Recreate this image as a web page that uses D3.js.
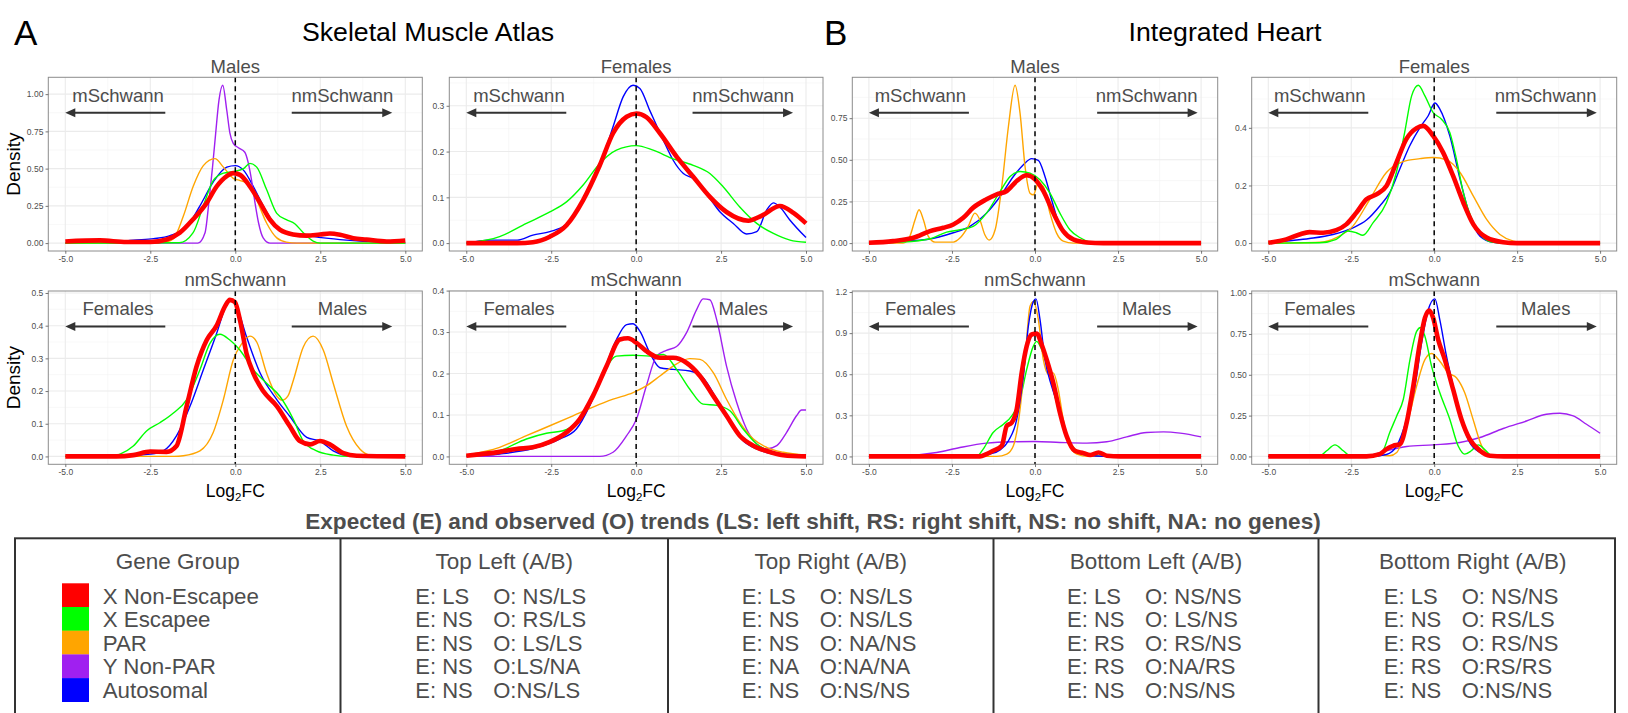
<!DOCTYPE html>
<html>
<head>
<meta charset="utf-8">
<script src="https://cdn.jsdelivr.net/npm/d3@7"></script>
<style>
  body { margin: 0; background: #fff; }
  svg { display: block; }
  text { font-family: "Liberation Sans", Arial, Helvetica, sans-serif; }
</style>
</head>
<body>
<svg id="fig" width="1628" height="713"></svg>
<script>
// ---------------------------------------------------------------
// Gene groups and shared axis values
// ---------------------------------------------------------------
const groupNames = ["X Non-Escapee", "X Escapee", "PAR", "Y Non-PAR", "Autosomal"];
const groupColors = ["#FF0000", "#00FF00", "#FFA500", "#A020F0", "#0000FF"];
const xTickValues = [-5, -2.5, 0, 2.5, 5];

// ---------------------------------------------------------------
// Density curves: [log2FC, density]
// ---------------------------------------------------------------
// Skeletal Muscle Atlas - Males (mSchwann vs nmSchwann)
const muscleMalesXNonEsc = [[-5,0.011],[-3.98,0.018],[-3.2,0.007],[-2.5,0.007],[-2.02,0.024],[-1.63,0.07],[-1.24,0.16],[-0.84,0.27],[-0.55,0.38],[-0.25,0.45],[-0.06,0.47],[0.14,0.458],[0.43,0.38],[0.73,0.27],[1.02,0.158],[1.31,0.09],[1.7,0.058],[2.1,0.05],[2.49,0.058],[2.78,0.064],[3.08,0.056],[3.47,0.033],[3.86,0.024],[4.45,0.011],[5,0.018]];
const muscleMalesXEsc = [[-5,0],[-1.65,0.002],[-1.24,0.07],[-0.94,0.25],[-0.65,0.42],[-0.35,0.47],[-0.06,0.48],[0.24,0.5],[0.43,0.535],[0.63,0.51],[0.92,0.36],[1.22,0.2],[1.5,0.158],[1.75,0.13],[2.0,0.07],[2.29,0.013],[2.5,0],[5,0]];
const muscleMalesPAR = [[-5,0],[-2.1,0.005],[-1.82,0.03],[-1.53,0.18],[-1.24,0.38],[-0.94,0.52],[-0.6,0.567],[-0.35,0.51],[-0.06,0.435],[0.14,0.42],[0.38,0.4],[0.63,0.29],[0.92,0.135],[1.22,0.035],[1.5,0.007],[1.8,0],[5,0]];
const muscleMalesYNonPAR = [[-5,0],[-1.1,0],[-0.89,0.07],[-0.77,0.29],[-0.67,0.51],[-0.58,0.73],[-0.48,0.96],[-0.37,1.06],[-0.25,0.89],[-0.16,0.74],[-0.06,0.67],[0.09,0.64],[0.28,0.61],[0.38,0.54],[0.48,0.42],[0.58,0.27],[0.68,0.14],[0.82,0.035],[1.02,0],[5,0]];
const muscleMalesAuto = [[-5,0],[-3.6,0.005],[-3.0,0.02],[-2.4,0.03],[-1.92,0.05],[-1.43,0.11],[-1.04,0.25],[-0.65,0.41],[-0.25,0.51],[0,0.52],[0.24,0.49],[0.53,0.38],[0.82,0.25],[1.22,0.11],[1.6,0.07],[2.1,0.05],[2.6,0.035],[3.27,0.02],[3.86,0.01],[5,0]];

// Skeletal Muscle Atlas - Females
const muscleFemalesXNonEsc = [[-5,0],[-3.5,0],[-3.04,0.002],[-2.54,0.014],[-2.05,0.039],[-1.56,0.094],[-1.07,0.17],[-0.68,0.24],[-0.28,0.276],[0.01,0.283],[0.3,0.275],[0.7,0.24],[1.19,0.189],[1.68,0.145],[2.17,0.101],[2.66,0.068],[3.3,0.049],[3.7,0.06],[4.23,0.081],[4.63,0.066],[5,0.043]];
const muscleFemalesXEsc = [[-5,0],[-4.02,0.014],[-3.23,0.043],[-2.54,0.068],[-2.05,0.09],[-1.56,0.127],[-1.07,0.174],[-0.58,0.203],[0,0.213],[0.5,0.203],[1.09,0.184],[1.68,0.17],[2.17,0.152],[2.56,0.123],[3.05,0.079],[3.55,0.043],[4.04,0.021],[4.53,0.0066],[5,0.002]];
const muscleFemalesAuto = [[-5,0],[-4.3,0.0066],[-3.5,0.0066],[-3.04,0.0175],[-2.54,0.025],[-2.05,0.041],[-1.56,0.094],[-1.07,0.167],[-0.68,0.254],[-0.38,0.32],[-0.09,0.345],[0.11,0.338],[0.4,0.29],[0.8,0.225],[1.09,0.181],[1.39,0.152],[1.68,0.141],[2.07,0.108],[2.47,0.068],[2.86,0.043],[3.25,0.02],[3.55,0.025],[3.84,0.072],[4.04,0.088],[4.23,0.079],[4.53,0.05],[5,0.012]];

// Skeletal Muscle Atlas - nmSchwann (Females vs Males)
const muscleNmXNonEsc = [[-5,0],[-3.5,0],[-3.0,0.004],[-2.5,0.015],[-2.02,0.014],[-1.73,0.032],[-1.43,0.154],[-1.14,0.275],[-0.84,0.356],[-0.55,0.4],[-0.3,0.46],[-0.16,0.479],[-0.01,0.472],[0.14,0.416],[0.33,0.315],[0.53,0.255],[0.82,0.2],[1.22,0.154],[1.6,0.093],[1.9,0.047],[2.2,0.037],[2.49,0.047],[2.78,0.037],[3.18,0.01],[3.57,0.002],[5,0]];
const muscleNmXEsc = [[-5,0],[-3.69,0],[-3.39,0.007],[-3.0,0.032],[-2.61,0.078],[-2.22,0.103],[-1.82,0.133],[-1.43,0.174],[-1.04,0.265],[-0.75,0.345],[-0.45,0.374],[-0.16,0.356],[0.14,0.325],[0.53,0.265],[0.92,0.224],[1.31,0.184],[1.71,0.113],[2.0,0.047],[2.39,0.017],[2.88,0.004],[3.3,0],[5,0]];
const muscleNmPAR = [[-5,0],[-1.8,0],[-1.53,0.002],[-1.04,0.017],[-0.65,0.073],[-0.35,0.174],[-0.06,0.295],[0.19,0.345],[0.43,0.368],[0.63,0.35],[0.92,0.255],[1.22,0.185],[1.38,0.172],[1.55,0.185],[1.71,0.234],[2.0,0.335],[2.29,0.368],[2.59,0.325],[2.88,0.224],[3.27,0.093],[3.67,0.022],[3.96,0.004],[4.3,0],[5,0]];
const muscleNmAuto = [[-5,0],[-3.5,0],[-2.5,0.007],[-2.12,0.017],[-1.73,0.063],[-1.33,0.154],[-0.94,0.265],[-0.55,0.376],[-0.25,0.467],[-0.16,0.482],[0.04,0.457],[0.33,0.366],[0.73,0.255],[1.22,0.174],[1.6,0.123],[2.1,0.058],[2.49,0.047],[2.88,0.017],[3.37,0.002],[5,0]];

// Skeletal Muscle Atlas - mSchwann (Females vs Males)
const muscleMXNonEsc = [[-5,0.0016],[-4.02,0.011],[-3.53,0.018],[-3.04,0.022],[-2.54,0.035],[-2.05,0.058],[-1.66,0.09],[-1.27,0.146],[-0.87,0.218],[-0.48,0.282],[-0.24,0.285],[0.01,0.274],[0.3,0.254],[0.7,0.238],[1.09,0.238],[1.48,0.226],[1.88,0.194],[2.27,0.146],[2.66,0.098],[3.05,0.05],[3.45,0.026],[3.84,0.013],[4.33,0.003],[5,0]];
const muscleMXEsc = [[-5,0.002],[-4.02,0.014],[-3.23,0.042],[-2.64,0.056],[-2.15,0.062],[-1.76,0.082],[-1.37,0.13],[-0.97,0.202],[-0.58,0.242],[-0.09,0.244],[0.4,0.242],[0.8,0.246],[1.19,0.21],[1.58,0.162],[1.97,0.126],[2.37,0.123],[2.76,0.11],[3.15,0.066],[3.55,0.03],[3.84,0.016],[4.33,0.006],[5,0.002]];
const muscleMPAR = [[-5,0.003],[-4.02,0.022],[-3.23,0.05],[-2.54,0.074],[-1.86,0.098],[-1.27,0.119],[-0.68,0.138],[-0.09,0.154],[0.3,0.17],[0.7,0.194],[1.09,0.218],[1.58,0.236],[1.88,0.234],[2.27,0.202],[2.66,0.138],[3.05,0.082],[3.45,0.042],[3.84,0.022],[4.33,0.01],[5,0.003]];
const muscleMYNonPAR = [[-5,0],[-1.07,0],[-0.68,0.01],[-0.28,0.05],[0.01,0.09],[0.3,0.17],[0.6,0.242],[0.89,0.256],[1.19,0.265],[1.48,0.298],[1.78,0.354],[1.97,0.38],[2.17,0.378],[2.37,0.33],[2.66,0.218],[2.96,0.13],[3.25,0.066],[3.55,0.03],[3.84,0.018],[4.14,0.026],[4.43,0.058],[4.72,0.098],[4.87,0.112],[5,0.112]];
const muscleMAuto = [[-5,0],[-4.02,0.006],[-3.04,0.019],[-2.25,0.042],[-1.76,0.066],[-1.37,0.122],[-0.97,0.202],[-0.58,0.282],[-0.28,0.318],[-0.09,0.32],[0.11,0.302],[0.4,0.25],[0.7,0.214],[1.09,0.21],[1.58,0.206],[1.97,0.19],[2.37,0.138],[2.76,0.082],[3.15,0.038],[3.55,0.018],[4.04,0.006],[5,0]];

// Integrated Heart - Males
const heartMalesXNonEsc = [[-5,0.002],[-4.27,0.012],[-3.66,0.032],[-3.16,0.072],[-2.76,0.092],[-2.46,0.112],[-2.16,0.152],[-1.86,0.213],[-1.46,0.263],[-1.15,0.293],[-0.85,0.313],[-0.55,0.373],[-0.25,0.407],[0,0.383],[0.25,0.313],[0.55,0.182],[0.85,0.072],[1.15,0.022],[1.56,0.004],[2.06,0],[5,0]];
const heartMalesXEsc = [[-5,0],[-3.97,0.006],[-3.16,0.026],[-2.66,0.066],[-2.26,0.08],[-1.86,0.1],[-1.46,0.18],[-1.05,0.31],[-0.75,0.4],[-0.45,0.43],[-0.15,0.42],[0.15,0.38],[0.45,0.3],[0.75,0.18],[1.05,0.08],[1.36,0.032],[1.66,0.006],[1.96,0],[5,0]];
const heartMalesPAR = [[-5,0],[-3.97,0],[-3.77,0.04],[-3.61,0.14],[-3.49,0.2],[-3.36,0.14],[-3.21,0.04],[-3.01,0.006],[-2.46,0.006],[-2.26,0.03],[-2.01,0.1],[-1.81,0.18],[-1.66,0.14],[-1.51,0.05],[-1.38,0.018],[-1.2,0.08],[-1.0,0.34],[-0.8,0.7],[-0.6,0.948],[-0.45,0.78],[-0.3,0.46],[-0.15,0.3],[-0.05,0.29],[0.1,0.36],[0.25,0.34],[0.45,0.18],[0.65,0.06],[0.85,0.012],[1.15,0],[5,0]];
const heartMalesAuto = [[-5,0],[-3.97,0.012],[-3.26,0.022],[-2.46,0.062],[-1.96,0.1],[-1.46,0.18],[-1.05,0.28],[-0.65,0.4],[-0.35,0.47],[-0.1,0.507],[0.1,0.497],[0.3,0.4],[0.5,0.26],[0.75,0.1],[1.05,0.026],[1.36,0.006],[1.7,0],[5,0]];

// Integrated Heart - Females
const heartFemalesXNonEsc = [[-5,0.001],[-4.46,0.013],[-4.06,0.03],[-3.76,0.038],[-3.35,0.036],[-2.95,0.045],[-2.65,0.065],[-2.35,0.105],[-2.04,0.152],[-1.74,0.169],[-1.44,0.198],[-1.14,0.279],[-0.84,0.361],[-0.53,0.399],[-0.33,0.407],[-0.03,0.372],[0.27,0.314],[0.57,0.233],[0.88,0.14],[1.18,0.065],[1.58,0.019],[2.08,0.003],[2.5,0],[5,0]];
const heartFemalesXEsc = [[-5,0],[-3.45,0.001],[-2.95,0.013],[-2.6,0.042],[-2.35,0.036],[-2.15,0.027],[-1.84,0.071],[-1.44,0.14],[-1.14,0.245],[-0.89,0.384],[-0.68,0.511],[-0.48,0.548],[-0.28,0.511],[-0.03,0.453],[0.22,0.43],[0.47,0.384],[0.67,0.291],[0.88,0.174],[1.18,0.071],[1.48,0.019],[1.78,0.003],[2.2,0],[5,0]];
const heartFemalesPAR = [[-5,0],[-3.45,0.003],[-2.95,0.019],[-2.45,0.059],[-1.94,0.152],[-1.44,0.245],[-0.94,0.283],[-0.43,0.293],[-0.03,0.297],[0.37,0.289],[0.78,0.245],[1.18,0.163],[1.58,0.082],[1.98,0.03],[2.39,0.007],[2.79,0.001],[5,0]];
const heartFemalesAuto = [[-5,0],[-4.46,0.007],[-3.76,0.016],[-3.05,0.03],[-2.45,0.053],[-2.04,0.08],[-1.64,0.129],[-1.34,0.175],[-1.04,0.256],[-0.74,0.337],[-0.43,0.401],[-0.18,0.442],[0.02,0.486],[0.17,0.465],[0.47,0.372],[0.78,0.221],[1.08,0.094],[1.38,0.024],[1.78,0.003],[2.2,0],[5,0]];

// Integrated Heart - nmSchwann
const heartNmXNonEsc = [[-5,0],[-1.66,0],[-1.46,0.017],[-1.26,0.041],[-1.0,0.078],[-0.85,0.223],[-0.7,0.247],[-0.55,0.344],[-0.4,0.611],[-0.25,0.805],[-0.1,0.89],[0.05,0.897],[0.2,0.817],[0.35,0.708],[0.55,0.538],[0.75,0.32],[0.95,0.15],[1.2,0.041],[1.46,0.024],[1.66,0.01],[1.91,0.029],[2.16,0.005],[2.56,0],[5,0]];
const heartNmXEsc = [[-5,0],[-1.76,0],[-1.56,0.053],[-1.26,0.175],[-0.95,0.235],[-0.7,0.296],[-0.45,0.417],[-0.25,0.635],[-0.05,0.805],[0.05,0.84],[0.2,0.78],[0.4,0.635],[0.65,0.393],[0.95,0.15],[1.26,0.041],[1.66,0.01],[2.1,0],[5,0]];
const heartNmPAR = [[-5,0],[-1.15,0],[-0.85,0.017],[-0.65,0.078],[-0.45,0.344],[-0.3,0.708],[-0.15,1.096],[-0.05,1.13],[0.1,1.0],[0.25,0.708],[0.4,0.6],[0.55,0.61],[0.7,0.49],[0.85,0.27],[1.05,0.078],[1.26,0.017],[1.6,0],[5,0]];
const heartNmYNonPAR = [[-5,0],[-3.97,0.005],[-2.96,0.029],[-2.26,0.065],[-1.46,0.097],[-0.65,0.107],[0,0.109],[0.75,0.102],[1.56,0.097],[2.16,0.107],[2.76,0.143],[3.36,0.175],[3.87,0.179],[4.37,0.17],[5,0.143]];
const heartNmAuto = [[-5,0],[-1.66,0],[-1.36,0.017],[-1.05,0.048],[-0.8,0.114],[-0.55,0.27],[-0.35,0.587],[-0.2,0.95],[-0.05,1.13],[0.03,1.15],[0.15,1.0],[0.3,0.708],[0.5,0.514],[0.7,0.368],[0.95,0.15],[1.2,0.041],[1.56,0.01],[2.1,0],[5,0]];

// Integrated Heart - mSchwann
const heartMXNonEsc = [[-5,0],[-2.04,0],[-1.64,0.014],[-1.44,0.045],[-1.24,0.065],[-1.03,0.075],[-0.83,0.207],[-0.63,0.431],[-0.43,0.695],[-0.28,0.848],[-0.15,0.894],[-0.03,0.848],[0.12,0.715],[0.32,0.593],[0.57,0.41],[0.82,0.228],[1.07,0.106],[1.38,0.035],[1.68,0.004],[2.1,0],[5,0]];
const heartMXEsc = [[-5,0],[-3.44,0.004],[-3.24,0.035],[-2.99,0.071],[-2.74,0.035],[-2.54,0.004],[-2.2,0],[-1.74,0.002],[-1.54,0.035],[-1.34,0.146],[-1.13,0.248],[-0.93,0.35],[-0.73,0.593],[-0.53,0.766],[-0.41,0.79],[-0.28,0.736],[-0.08,0.553],[0.17,0.39],[0.47,0.228],[0.72,0.065],[0.92,0.014],[1.12,0.035],[1.33,0.071],[1.53,0.041],[1.73,0.004],[2.1,0],[5,0]];
const heartMPAR = [[-5,0],[-2.04,0],[-1.64,0.008],[-1.34,0.004],[-1.13,0.024],[-0.83,0.187],[-0.53,0.431],[-0.28,0.593],[-0.08,0.63],[0.17,0.583],[0.42,0.512],[0.67,0.482],[0.92,0.39],[1.17,0.228],[1.43,0.065],[1.68,0.008],[2.1,0],[5,0]];
const heartMYNonPAR = [[-5,0],[-2.44,0],[-1.94,0.008],[-1.44,0.035],[-0.83,0.061],[-0.03,0.071],[0.77,0.085],[1.38,0.116],[2.08,0.171],[2.78,0.217],[3.38,0.258],[3.79,0.264],[4.19,0.248],[4.59,0.197],[5,0.142]];
const heartMAuto = [[-5,0],[-1.94,0],[-1.44,0.012],[-1.13,0.065],[-0.83,0.228],[-0.58,0.431],[-0.38,0.695],[-0.18,0.898],[0.02,0.965],[0.17,0.837],[0.37,0.614],[0.57,0.431],[0.82,0.228],[1.07,0.085],[1.38,0.024],[1.68,0.004],[2.1,0],[5,0]];

// ---------------------------------------------------------------
// Summary table
// ---------------------------------------------------------------
const tableTitle = "Expected (E) and observed (O) trends (LS: left shift, RS: right shift, NS: no shift, NA: no genes)";
const tableHeads = ["Gene Group", "Top Left (A/B)", "Top Right (A/B)", "Bottom Left (A/B)", "Bottom Right (A/B)"];
const expectedTrends = [
  ["E: LS", "E: NS", "E: NS", "E: NS", "E: NS"],
  ["E: LS", "E: NS", "E: NS", "E: NA", "E: NS"],
  ["E: LS", "E: NS", "E: RS", "E: RS", "E: NS"],
  ["E: LS", "E: NS", "E: RS", "E: RS", "E: NS"]
];
const observedTrends = [
  ["O: NS/LS", "O: RS/LS", "O: LS/LS", "O:LS/NA", "O:NS/LS"],
  ["O: NS/LS", "O: NS/LS", "O: NA/NS", "O:NA/NA", "O:NS/NS"],
  ["O: NS/NS", "O: LS/NS", "O: RS/NS", "O:NA/RS", "O:NS/NS"],
  ["O: NS/NS", "O: RS/LS", "O: RS/NS", "O:RS/RS", "O:NS/NS"]
];

// ---------------------------------------------------------------
// Panel definitions
// ---------------------------------------------------------------
const G = {red: 0, green: 1, orange: 2, purple: 3, blue: 4};
const panels = [
  {box: [48.3, 422.3, 77.3, 251], title: "Males", left: "mSchwann", right: "nmSchwann", density: true, rShift: 0,
   yTicks: [0, 0.25, 0.5, 0.75, 1], yFmt: ".2f",
   curves: [[G.blue, muscleMalesAuto], [G.purple, muscleMalesYNonPAR], [G.orange, muscleMalesPAR], [G.green, muscleMalesXEsc], [G.red, muscleMalesXNonEsc]]},
  {box: [449.3, 823, 77.3, 251], title: "Females", left: "mSchwann", right: "nmSchwann", density: false, rShift: 0,
   yTicks: [0, 0.1, 0.2, 0.3], yFmt: ".1f",
   curves: [[G.blue, muscleFemalesAuto], [G.green, muscleFemalesXEsc], [G.red, muscleFemalesXNonEsc]]},
  {box: [48.3, 422.3, 291, 464.3], title: "nmSchwann", left: "Females", right: "Males", density: true, rShift: 0,
   yTicks: [0, 0.1, 0.2, 0.3, 0.4, 0.5], yFmt: ".1f",
   curves: [[G.blue, muscleNmAuto], [G.orange, muscleNmPAR], [G.green, muscleNmXEsc], [G.red, muscleNmXNonEsc]]},
  {box: [449.3, 823, 291, 464.3], title: "mSchwann", left: "Females", right: "Males", density: false, rShift: 0,
   yTicks: [0, 0.1, 0.2, 0.3, 0.4], yFmt: ".1f",
   curves: [[G.blue, muscleMAuto], [G.purple, muscleMYNonPAR], [G.orange, muscleMPAR], [G.green, muscleMXEsc], [G.red, muscleMXNonEsc]]},
  {box: [852.3, 1217.7, 77.3, 251], title: "Males", left: "mSchwann", right: "nmSchwann", density: false, rShift: 7,
   yTicks: [0, 0.25, 0.5, 0.75], yFmt: ".2f",
   curves: [[G.blue, heartMalesAuto], [G.orange, heartMalesPAR], [G.green, heartMalesXEsc], [G.red, heartMalesXNonEsc]]},
  {box: [1251.7, 1616.7, 77.3, 251], title: "Females", left: "mSchwann", right: "nmSchwann", density: false, rShift: 7,
   yTicks: [0, 0.2, 0.4], yFmt: ".1f",
   curves: [[G.blue, heartFemalesAuto], [G.orange, heartFemalesPAR], [G.green, heartFemalesXEsc], [G.red, heartFemalesXNonEsc]]},
  {box: [852.3, 1217.7, 291, 464.3], title: "nmSchwann", left: "Females", right: "Males", density: false, rShift: 7,
   yTicks: [0, 0.3, 0.6, 0.9, 1.2], yFmt: ".1f",
   curves: [[G.purple, heartNmYNonPAR], [G.green, heartNmXEsc], [G.orange, heartNmPAR], [G.blue, heartNmAuto], [G.red, heartNmXNonEsc]]},
  {box: [1251.7, 1616.7, 291, 464.3], title: "mSchwann", left: "Females", right: "Males", density: false, rShift: 7,
   yTicks: [0, 0.25, 0.5, 0.75, 1], yFmt: ".2f",
   curves: [[G.purple, heartMYNonPAR], [G.orange, heartMPAR], [G.green, heartMXEsc], [G.blue, heartMAuto], [G.red, heartMXNonEsc]]}
];

// ---------------------------------------------------------------
// Drawing
// ---------------------------------------------------------------
const svg = d3.select("#fig");
const loc = d3.formatLocale({decimal: ".", thousands: ",", grouping: [3], currency: ["", ""], minus: "-"});
const TEXT_GREY = "#4d4d4d";

// Section letters and titles
svg.append("text").attr("x", 14).attr("y", 45).attr("font-size", 35).attr("fill", "#000").text("A");
svg.append("text").attr("x", 428).attr("y", 40.5).attr("text-anchor", "middle").attr("font-size", 26.7).attr("fill", "#000").text("Skeletal Muscle Atlas");
svg.append("text").attr("x", 824).attr("y", 45).attr("font-size", 35).attr("fill", "#000").text("B");
svg.append("text").attr("x", 1225).attr("y", 40.5).attr("text-anchor", "middle").attr("font-size", 26.7).attr("fill", "#000").text("Integrated Heart");

function arrow(g, xTail, xTip, yy) {
  const dir = Math.sign(xTip - xTail);
  const headLen = 10, headHalf = 4.5;
  g.append("line").attr("x1", xTail).attr("x2", xTip - dir * headLen + dir * 1).attr("y1", yy).attr("y2", yy)
    .attr("stroke", "#333").attr("stroke-width", 2);
  g.append("path")
    .attr("d", `M${xTip},${yy} L${xTip - dir * headLen},${yy - headHalf} L${xTip - dir * headLen},${yy + headHalf} Z`)
    .attr("fill", "#333");
}

panels.forEach(p => {
  const [x0, x1, y0, y1] = p.box;
  const g = svg.append("g");
  const x = d3.scaleLinear().domain([-5.5, 5.5]).range([x0, x1]);
  const ymax = d3.max(p.curves, c => d3.max(c[1], d => d[1]));
  const y = d3.scaleLinear().domain([-0.05 * ymax, 1.05 * ymax]).range([y1, y0]);

  // background grid
  const step = p.yTicks[1] - p.yTicks[0];
  const yMinor = d3.range(p.yTicks[0] - step / 2, 1.05 * ymax, step).filter(v => v > -0.05 * ymax);
  const xMinor = xTickValues.slice(1).map((v, i) => (v + xTickValues[i]) / 2);
  g.selectAll(".ymn").data(yMinor).join("line")
    .attr("x1", x0).attr("x2", x1).attr("y1", d => y(d)).attr("y2", d => y(d))
    .attr("stroke", "#f3f3f3").attr("stroke-width", 0.6);
  g.selectAll(".xmn").data(xMinor).join("line")
    .attr("y1", y0).attr("y2", y1).attr("x1", d => x(d)).attr("x2", d => x(d))
    .attr("stroke", "#f3f3f3").attr("stroke-width", 0.6);
  g.selectAll(".ymj").data(p.yTicks).join("line")
    .attr("x1", x0).attr("x2", x1).attr("y1", d => y(d)).attr("y2", d => y(d))
    .attr("stroke", "#ebebeb").attr("stroke-width", 1.1);
  g.selectAll(".xmj").data(xTickValues).join("line")
    .attr("y1", y0).attr("y2", y1).attr("x1", d => x(d)).attr("x2", d => x(d))
    .attr("stroke", "#ebebeb").attr("stroke-width", 1.1);

  // density curves
  const line = d3.line().x(d => x(d[0])).y(d => y(d[1])).curve(d3.curveMonotoneX);
  p.curves.forEach(([gi, pts]) => {
    g.append("path").attr("d", line(pts)).attr("fill", "none")
      .attr("stroke", groupColors[gi])
      .attr("stroke-width", gi === G.red ? 4.6 : 1.4)
      .attr("stroke-linejoin", "round").attr("stroke-linecap", "butt");
  });

  // zero reference
  g.append("line").attr("x1", x(0)).attr("x2", x(0)).attr("y1", y0).attr("y2", y1)
    .attr("stroke", "#000").attr("stroke-width", 1.5).attr("stroke-dasharray", "5,4");

  // direction annotations
  const tY = y0 + 18, aY = y0 + 35.5;
  g.append("text").attr("x", x(-3.45)).attr("y", tY).attr("dy", "0.35em").attr("text-anchor", "middle")
    .attr("font-size", 18.5).attr("fill", TEXT_GREY).text(p.left);
  g.append("text").attr("x", x(3.15) + p.rShift).attr("y", tY).attr("dy", "0.35em").attr("text-anchor", "middle")
    .attr("font-size", 18.5).attr("fill", TEXT_GREY).text(p.right);
  arrow(g, x(-5) + 100, x(-5), aY);
  arrow(g, x(1.66) + p.rShift, x(1.66) + p.rShift + 100.5, aY);

  // panel border
  g.append("rect").attr("x", x0).attr("y", y0).attr("width", x1 - x0).attr("height", y1 - y0)
    .attr("fill", "none").attr("stroke", "#8c8c8c").attr("stroke-width", 1);

  // axes
  const ax = g.append("g").attr("transform", `translate(0,${y1})`)
    .call(d3.axisBottom(x).tickValues(xTickValues).tickFormat(loc.format(".1f")).tickSize(2.75).tickPadding(2.2));
  const ay = g.append("g").attr("transform", `translate(${x0},0)`)
    .call(d3.axisLeft(y).tickValues(p.yTicks).tickFormat(loc.format(p.yFmt)).tickSize(2.75).tickPadding(2.2));
  [ax, ay].forEach(a => {
    a.select(".domain").remove();
    a.selectAll(".tick line").attr("stroke", "#555").attr("stroke-width", 0.8);
    a.selectAll(".tick text").attr("fill", TEXT_GREY).attr("font-size", 8.5)
      .attr("font-family", "'Liberation Sans', Arial, Helvetica, sans-serif");
  });

  // strip title
  g.append("text").attr("x", (x0 + x1) / 2).attr("y", y0 - 11).attr("dy", "0.35em").attr("text-anchor", "middle")
    .attr("font-size", 18.5).attr("fill", TEXT_GREY).text(p.title);

  // y axis title
  if (p.density) {
    g.append("text").attr("transform", `translate(13,${(y0 + y1) / 2}) rotate(-90)`)
      .attr("dy", "0.35em").attr("text-anchor", "middle").attr("font-size", 19).attr("fill", "#000").text("Density");
  }
  // x axis title (bottom row only)
  if (y0 > 200) {
    const t = g.append("text").attr("x", x(0)).attr("y", 497).attr("text-anchor", "middle")
      .attr("font-size", 17.5).attr("fill", "#000");
    t.append("tspan").text("Log");
    t.append("tspan").attr("font-size", 11.5).attr("dy", 4).text("2");
    t.append("tspan").attr("dy", -4).text("FC");
  }
});

// ---------------------------------------------------------------
// Trend table
// ---------------------------------------------------------------
const tb = svg.append("g");
tb.append("text").attr("x", 813).attr("y", 521).attr("dy", "0.35em").attr("text-anchor", "middle")
  .attr("font-size", 22.6).attr("font-weight", "bold").attr("fill", TEXT_GREY).text(tableTitle);

const colEdges = [15, 340.5, 668, 993.5, 1318.5, 1615];
const colShift = [0, 0, 0, 0, 6];
const tTop = 538.3;
tb.append("rect").attr("x", colEdges[0]).attr("y", tTop).attr("width", colEdges[5] - colEdges[0]).attr("height", 200)
  .attr("fill", "none").attr("stroke", "#333").attr("stroke-width", 2);
colEdges.slice(1, 5).forEach(cx => {
  tb.append("line").attr("x1", cx).attr("x2", cx).attr("y1", tTop).attr("y2", 720).attr("stroke", "#333").attr("stroke-width", 2);
});
const colCenter = i => (colEdges[i] + colEdges[i + 1]) / 2 + colShift[i];
tableHeads.forEach((h, i) => {
  tb.append("text").attr("x", colCenter(i)).attr("y", 561).attr("dy", "0.35em").attr("text-anchor", "middle")
    .attr("font-size", 22.5).attr("fill", TEXT_GREY).text(h);
});

const rowY = i => 595.8 + i * 23.5;
groupNames.forEach((name, i) => {
  tb.append("rect").attr("x", 62).attr("y", 583.3 + i * 23.7).attr("width", 27).attr("height", 23.9)
    .attr("fill", groupColors[i]);
  tb.append("text").attr("x", 102.7).attr("y", rowY(i)).attr("dy", "0.35em")
    .attr("font-size", 22.3).attr("fill", TEXT_GREY).text(name);
});

expectedTrends.forEach((col, c) => {
  const cx = colCenter(c + 1);
  col.forEach((e, r) => {
    tb.append("text").attr("x", cx - 89).attr("y", rowY(r)).attr("dy", "0.35em")
      .attr("font-size", 22).attr("fill", TEXT_GREY).text(e);
    tb.append("text").attr("x", cx - 11).attr("y", rowY(r)).attr("dy", "0.35em")
      .attr("font-size", 22).attr("fill", TEXT_GREY).text(observedTrends[c][r]);
  });
});
</script>
</body>
</html>
